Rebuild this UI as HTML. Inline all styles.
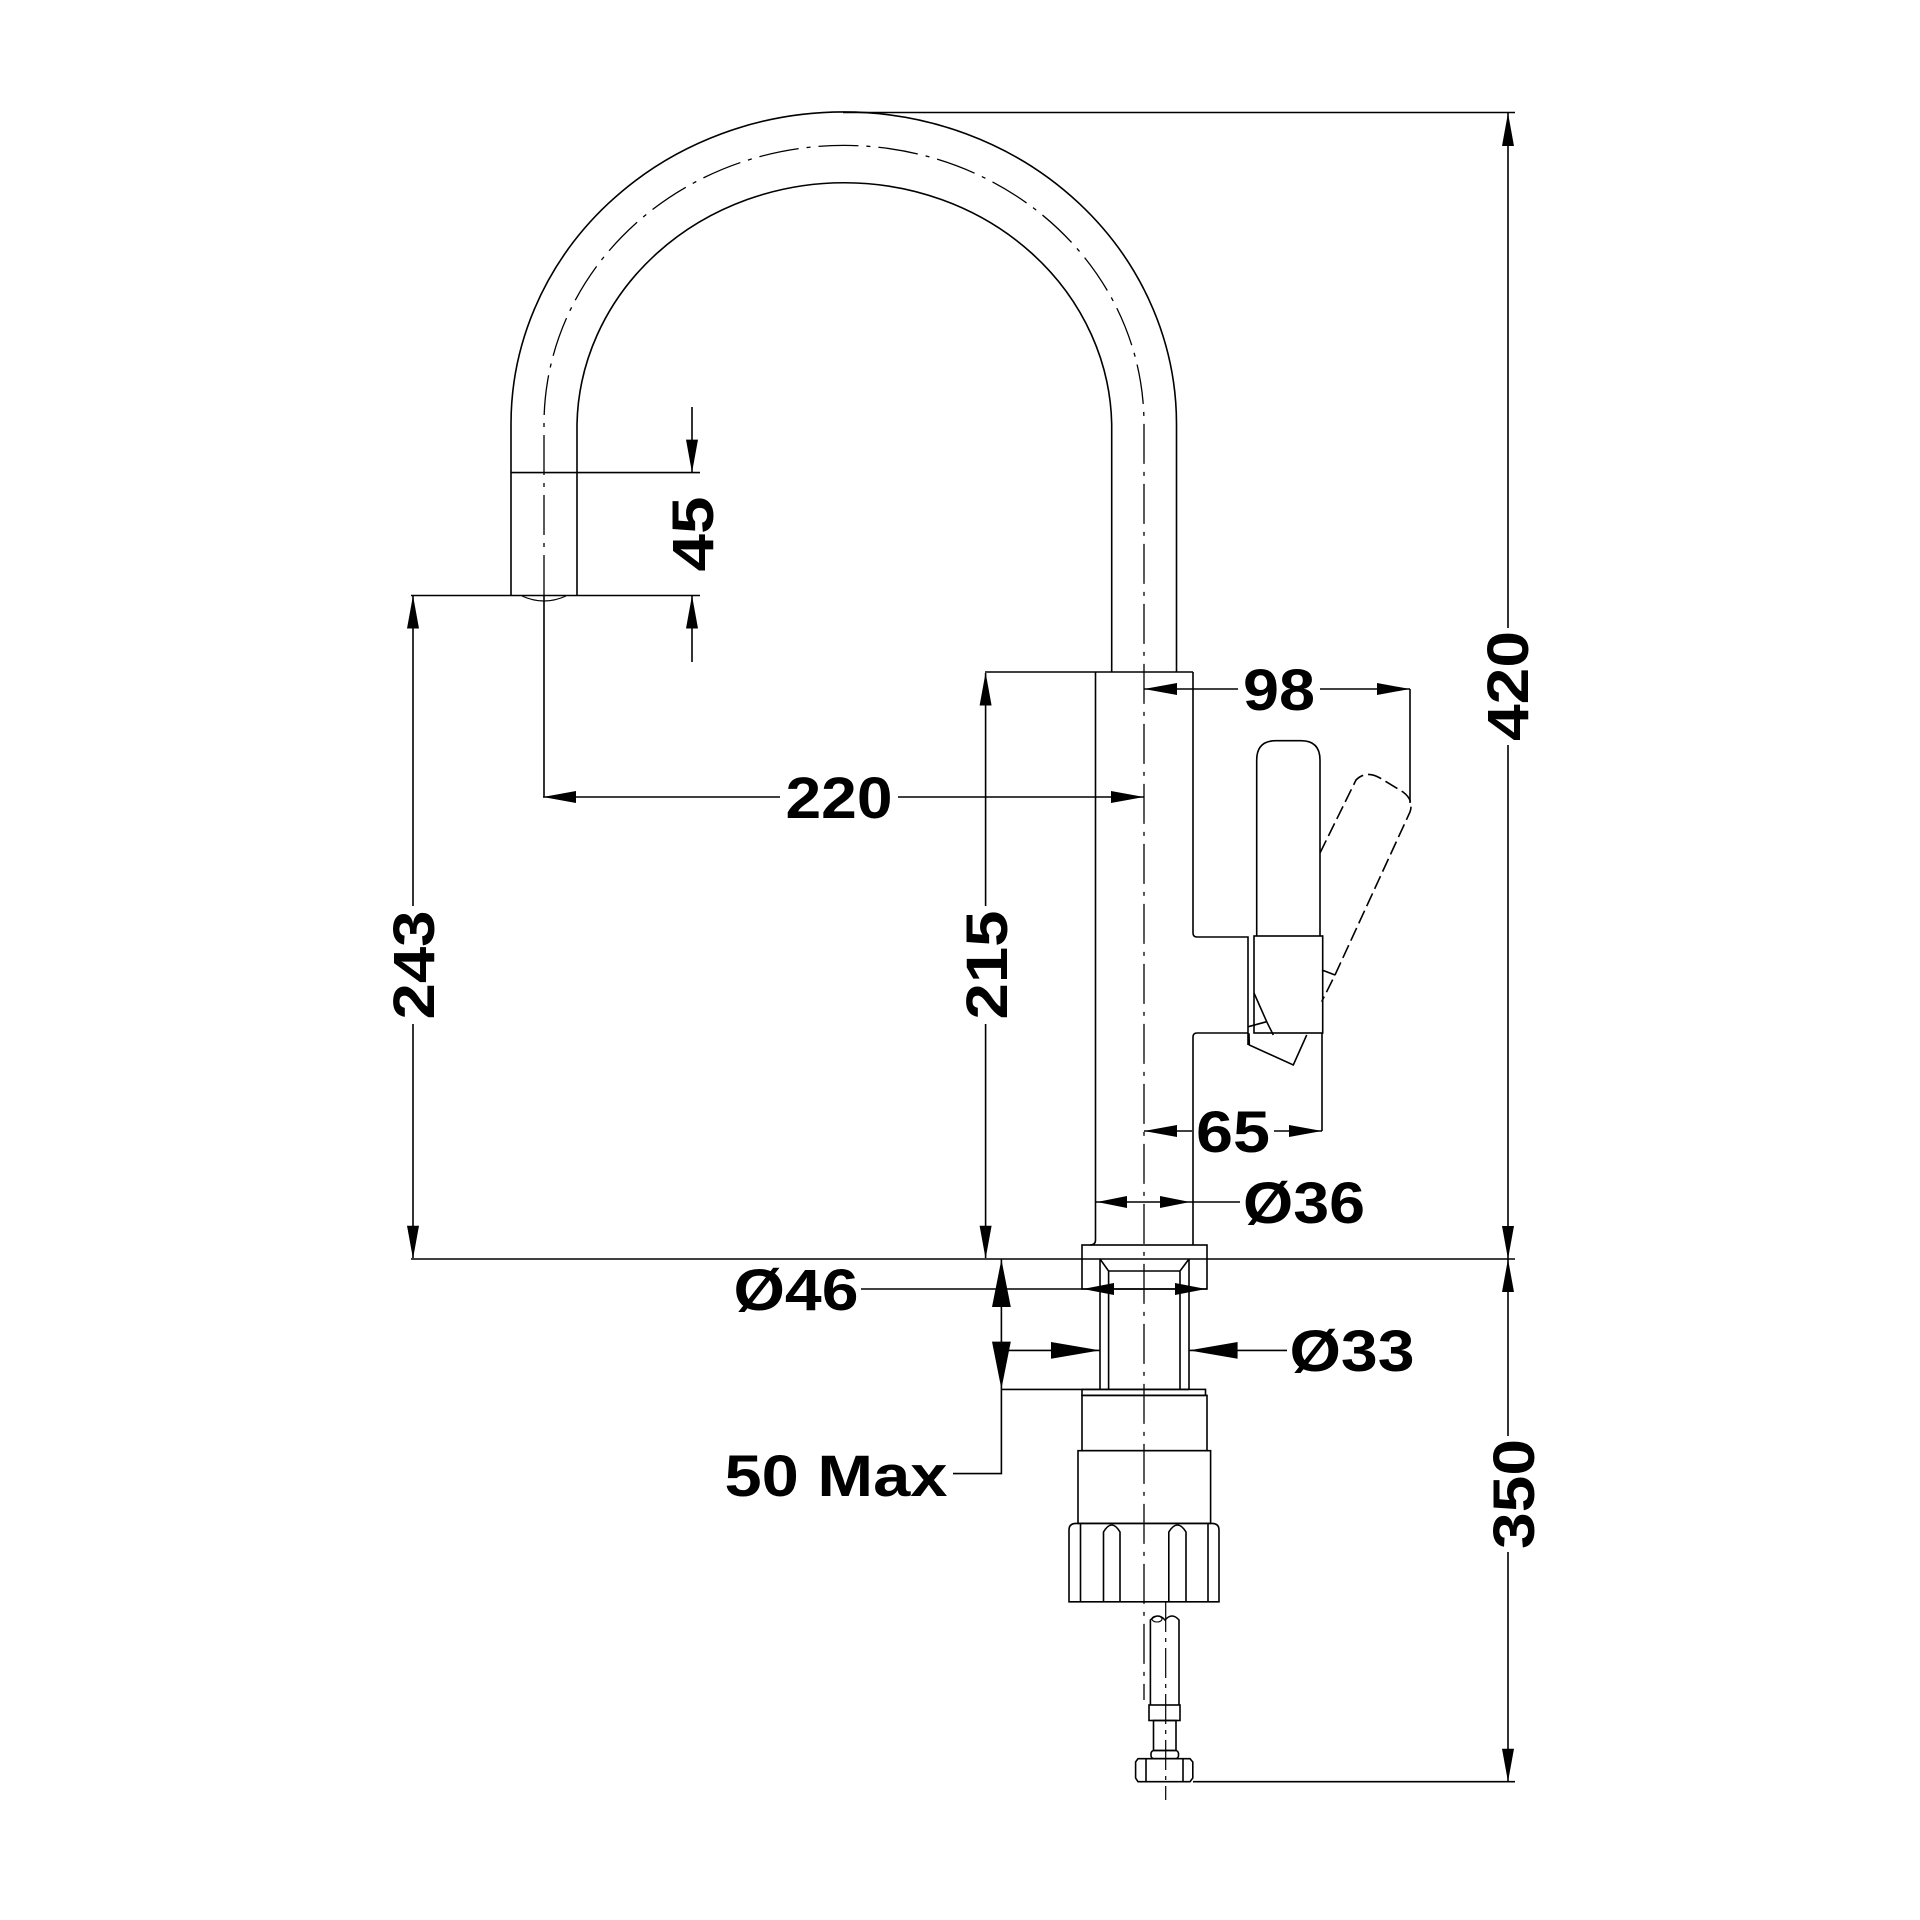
<!DOCTYPE html>
<html><head><meta charset="utf-8"><style>html,body{margin:0;padding:0;background:#fff}svg{display:block}</style></head><body>
<svg xmlns="http://www.w3.org/2000/svg" width="1920" height="1920" viewBox="0 0 1920 1920">
<rect width="1920" height="1920" fill="#fff"/>
<g fill="none" stroke="#000" stroke-width="1.6">
<!-- spout -->
<path d="M511,595.5 L511,424 A332.7,312 0 0 1 1176.5,424 L1176.5,672"/>
<path d="M577,595.5 L577,424 A267.4,246 0 0 1 1111.7,424 L1111.7,672"/>
<path d="M544,595 L544,424 A300,278.6 0 0 1 1144,424 L1144,1700" stroke-dasharray="40,8,4,8" stroke-width="1.3"/>
<line x1="511" y1="472.6" x2="700" y2="472.6"/>
<line x1="411" y1="595.5" x2="700" y2="595.5"/>
<path d="M522,596 Q544,606 566,596" stroke-width="1.2"/>
<line x1="544" y1="595" x2="544" y2="797"/>
<!-- body -->
<line x1="985" y1="672" x2="1193" y2="672"/>
<path d="M1095.5,672 L1095.5,1240 Q1095.5,1245 1090,1245"/>
<path d="M1193,672 L1193,933 Q1193,937 1197,937 L1248,937 L1248,1045"/>
<path d="M1248,1033 L1197,1033 Q1193,1033 1193,1037 L1193,1245"/>
<!-- handle -->
<path d="M1256.7,936 L1256.7,760 Q1256.7,740.7 1276,740.7 L1301,740.7 Q1320,740.7 1320,760 L1320,936"/>
<rect x="1254" y="936" width="68.7" height="97"/>
<path d="M1320,853 L1356,780 Q1366,770 1380,778 L1403,792 Q1414,800 1410,812 L1335,975 L1321.7,1001.7" stroke-dasharray="14,5"/>
<line x1="1322" y1="970" x2="1335" y2="975"/>
<path d="M1254,993 L1266.7,1021.7 L1273.3,1035"/>
<path d="M1248.3,1026.7 L1266.7,1021.7"/>
<path d="M1249,1033.3 L1249.3,1045 L1293.3,1065 L1306.7,1035"/>
<!-- collar & pipe -->
<rect x="1082" y="1245" width="125" height="44"/>
<line x1="1100" y1="1259" x2="1100" y2="1389.4"/>
<line x1="1189" y1="1259" x2="1189" y2="1389.4"/>
<path d="M1100,1259 L1108.6,1271 L1108.6,1389.4"/>
<path d="M1189,1259 L1180,1271 L1180,1389.4"/>
<line x1="1108.6" y1="1271" x2="1180" y2="1271"/>
<rect x="1082" y="1389.4" width="123.5" height="6"/>
<rect x="1082" y="1395.4" width="125" height="55.3"/>
<rect x="1078" y="1450.7" width="132.6" height="72.7"/>
<path d="M1069,1601.8 L1069,1530 Q1069,1523.4 1076,1523.4 L1212,1523.4 Q1219,1523.4 1219,1530 L1219,1601.8 Z"/>
<line x1="1080.5" y1="1523.4" x2="1080.5" y2="1601.8"/>
<line x1="1208" y1="1523.4" x2="1208" y2="1601.8"/>
<path d="M1103.5,1601.8 L1103.5,1532 Q1111.7,1518 1120,1532 L1120,1601.8"/>
<path d="M1168.8,1601.8 L1168.8,1532 Q1177.4,1518 1186,1532 L1186,1601.8"/>
<!-- hose -->
<line x1="1165.7" y1="1602" x2="1165.7" y2="1800" stroke-dasharray="30,6,4,6" stroke-width="1.2"/>
<path d="M1150.4,1705 L1150.4,1620 Q1158,1612 1165,1620 Q1172,1612 1179,1620 L1179,1705"/>
<ellipse cx="1157" cy="1619" rx="5" ry="3" stroke-width="1.1"/>
<rect x="1149" y="1705" width="31" height="15.5"/>
<rect x="1153.5" y="1720.5" width="22.5" height="30"/>
<rect x="1151" y="1750.5" width="27.5" height="8.2" rx="3"/>
<path d="M1138,1758.7 L1190,1758.7 L1192.8,1762 L1192.8,1778 L1190,1781.7 L1138,1781.7 L1135.6,1778 L1135.6,1762 Z"/>
<line x1="1146" y1="1758.7" x2="1146" y2="1781.7"/>
<line x1="1183" y1="1758.7" x2="1183" y2="1781.7"/>
<!-- extension lines -->
<line x1="843" y1="112.5" x2="1515" y2="112.5"/>
<line x1="411" y1="1259" x2="1515" y2="1259"/>
<line x1="1193" y1="1781.7" x2="1515" y2="1781.7"/>
<line x1="1410" y1="689" x2="1410" y2="803"/>
<line x1="1322" y1="1033" x2="1322" y2="1131"/>
<line x1="1001.4" y1="1389.4" x2="1189" y2="1389.4"/>
<!-- dimension lines -->
<line x1="1508" y1="113" x2="1508" y2="628"/><line x1="1508" y1="745" x2="1508" y2="1259"/>
<line x1="1508" y1="1259" x2="1508" y2="1436"/><line x1="1508" y1="1552" x2="1508" y2="1781"/>
<line x1="413" y1="596" x2="413" y2="906"/><line x1="413" y1="1024" x2="413" y2="1258"/>
<line x1="985.6" y1="673" x2="985.6" y2="906"/><line x1="985.6" y1="1024" x2="985.6" y2="1258"/>
<line x1="692" y1="407" x2="692" y2="472"/><line x1="692" y1="596" x2="692" y2="662"/>
<line x1="543" y1="797" x2="780" y2="797"/><line x1="898" y1="797" x2="1144" y2="797"/>
<line x1="1144" y1="689" x2="1238" y2="689"/><line x1="1320" y1="689" x2="1410" y2="689"/>
<line x1="1144" y1="1131" x2="1192" y2="1131"/><line x1="1274" y1="1131" x2="1322" y2="1131"/>
<line x1="1096" y1="1202" x2="1240" y2="1202"/>
<line x1="861" y1="1289" x2="1207" y2="1289"/>
<line x1="1006.5" y1="1350.4" x2="1100" y2="1350.4"/><line x1="1189" y1="1350.4" x2="1287" y2="1350.4"/>
<path d="M1001.4,1259 L1001.4,1473.6 L953,1473.6"/>
</g>
<g fill="#000">
<!-- vertical arrows -->
<polygon points="1508,113 1502,146 1514,146"/>
<polygon points="1508,1259 1502,1226 1514,1226"/>
<polygon points="1508,1259 1502,1292 1514,1292"/>
<polygon points="1508,1781.7 1502,1748.7 1514,1748.7"/>
<polygon points="413,595.5 407,628.5 419,628.5"/>
<polygon points="413,1258.7 407,1225.7 419,1225.7"/>
<polygon points="985.6,672.5 979.6,705.5 991.6,705.5"/>
<polygon points="985.6,1258.7 979.6,1225.7 991.6,1225.7"/>
<polygon points="692,472.6 686,439.6 698,439.6"/>
<polygon points="692,595.5 686,628.5 698,628.5"/>
<polygon points="1001.4,1259.5 992,1307 1010.8,1307"/>
<polygon points="1001.4,1389 992,1341.6 1010.8,1341.6"/>
<!-- horizontal arrows -->
<polygon points="543,797 576,791 576,803"/>
<polygon points="1144,797 1111,791 1111,803"/>
<polygon points="1144,689 1177,683 1177,695"/>
<polygon points="1410,689 1377,683 1377,695"/>
<polygon points="1144,1131 1177,1125 1177,1137"/>
<polygon points="1322,1131 1289,1125 1289,1137"/>
<polygon points="1097,1202 1127,1196 1127,1208"/>
<polygon points="1190,1202 1160,1196 1160,1208"/>
<polygon points="1083,1289 1114,1283 1114,1295"/>
<polygon points="1206,1289 1175,1283 1175,1295"/>
<polygon points="1100,1350.4 1051,1342 1051,1358.8"/>
<polygon points="1189,1350.4 1237.6,1342 1237.6,1358.8"/>
</g>
<g font-family="Liberation Sans, Arial, sans-serif" font-weight="bold" font-size="58" fill="#000" text-anchor="middle">
<text transform="translate(1507,686) rotate(-90)" y="21" textLength="110" lengthAdjust="spacingAndGlyphs">420</text>
<text transform="translate(1513,1494) rotate(-90)" y="21" textLength="110" lengthAdjust="spacingAndGlyphs">350</text>
<text transform="translate(413,965) rotate(-90)" y="21" textLength="109" lengthAdjust="spacingAndGlyphs">243</text>
<text transform="translate(986,965) rotate(-90)" y="21" textLength="109" lengthAdjust="spacingAndGlyphs">215</text>
<text transform="translate(692,534) rotate(-90)" y="21" textLength="75" lengthAdjust="spacingAndGlyphs">45</text>
<text x="839" y="818" textLength="107" lengthAdjust="spacingAndGlyphs">220</text>
<text x="1279" y="710" textLength="72" lengthAdjust="spacingAndGlyphs">98</text>
<text x="1233" y="1152" textLength="74" lengthAdjust="spacingAndGlyphs">65</text>
<text x="1304" y="1223" textLength="122" lengthAdjust="spacingAndGlyphs">Ø36</text>
<text x="796" y="1310" textLength="125" lengthAdjust="spacingAndGlyphs">Ø46</text>
<text x="1352" y="1371" textLength="125" lengthAdjust="spacingAndGlyphs">Ø33</text>
<text x="836" y="1496" textLength="223" lengthAdjust="spacingAndGlyphs">50 Max</text>
</g>
</svg>
</body></html>
